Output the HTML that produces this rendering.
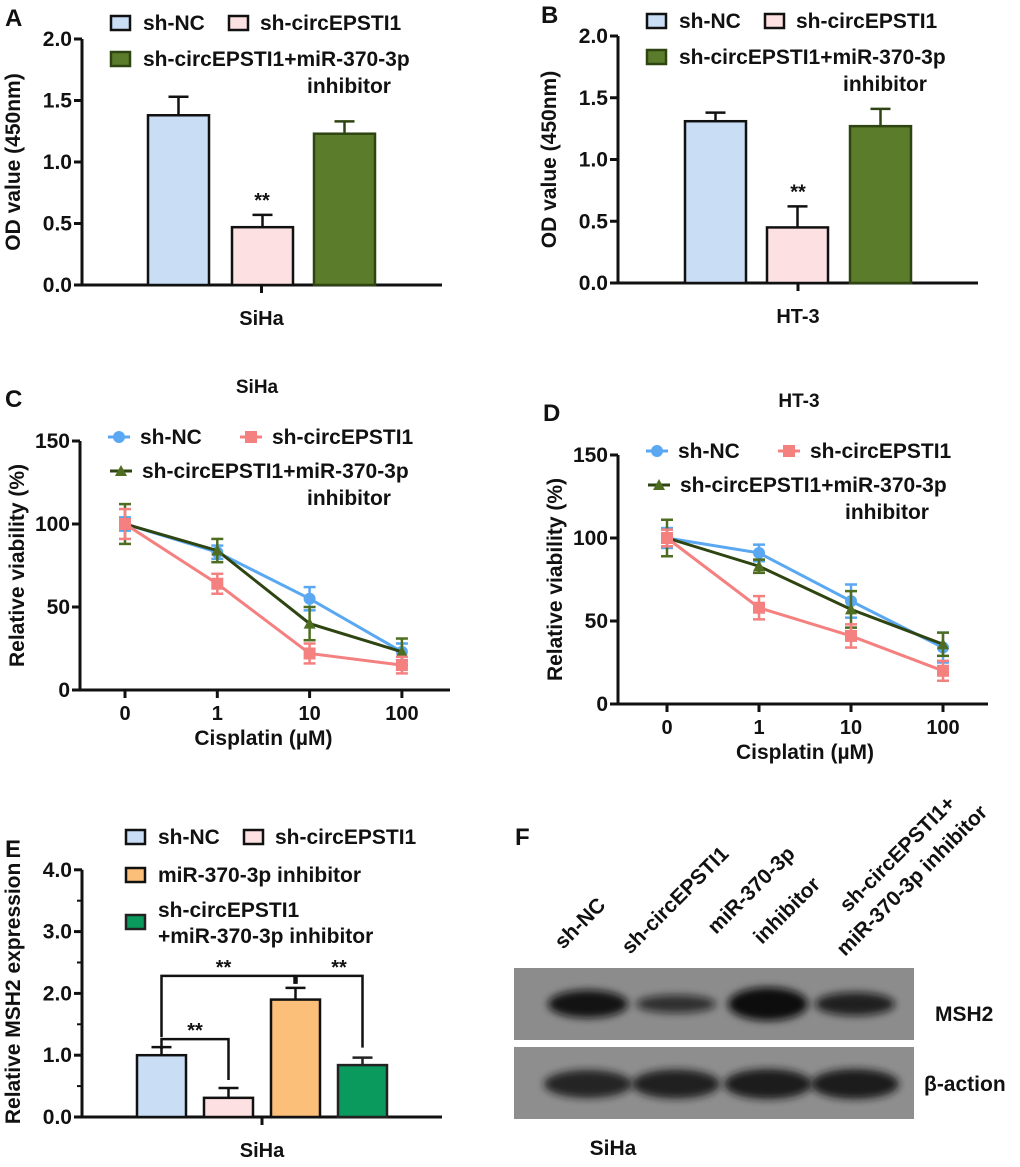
<!DOCTYPE html>
<html><head><meta charset="utf-8"><style>
body{margin:0;background:#fff}
svg text{font-family:"Liberation Sans",Arial,sans-serif;font-weight:bold;fill:#111}
</style></head><body>
<svg id="fig" width="1020" height="1162" viewBox="0 0 1020 1162" xmlns="http://www.w3.org/2000/svg">
<defs><filter id="blur" x="-20%" y="-50%" width="140%" height="200%"><feGaussianBlur stdDeviation="4"/></filter></defs>
</svg>
<script>
// ---- data ----
const barGroups = ["sh-NC","sh-circEPSTI1","sh-circEPSTI1+miR-370-3p inhibitor"];
const odSiHa = [1.38, 0.47, 1.23];
const odSiHaErr = [0.15, 0.10, 0.10];
const odHT3 = [1.31, 0.45, 1.27];
const odHT3Err = [0.07, 0.17, 0.14];
const odTicks = [0, 0.5, 1.0, 1.5, 2.0];
const doseLabels = ["0","1","10","100"];
const vSiHaNC = [100, 83, 55, 23];
const vSiHaNCErr = [4, 4, 7, 5];
const vSiHaCirc = [100, 64, 22, 15];
const vSiHaCircErr = [9, 6, 6, 5];
const vSiHaCombo = [100, 84, 40, 23];
const vSiHaComboErr = [12, 7, 10, 8];
const vHT3NC = [100, 91, 62, 34];
const vHT3NCErr = [6, 5, 10, 9];
const vHT3Circ = [100, 58, 41, 20];
const vHT3CircErr = [5, 7, 7, 6];
const vHT3Combo = [100, 83, 57, 36];
const vHT3ComboErr = [11, 4, 11, 7];
const vTicks = [0, 50, 100, 150];
const msh2Groups = ["sh-NC","sh-circEPSTI1","miR-370-3p inhibitor","sh-circEPSTI1+miR-370-3p inhibitor"];
const msh2 = [1.0, 0.31, 1.90, 0.84];
const msh2Err = [0.13, 0.16, 0.19, 0.12];
const msh2Ticks = [0, 1.0, 2.0, 3.0, 4.0];
const msh2Minor = [0.5, 1.5, 2.5, 3.5];
const blotMSH2 = [1.0, 0.45, 1.3, 0.75];
const blotActin = [0.8, 0.9, 1.0, 1.0];

const NS = "http://www.w3.org/2000/svg";
const svg = document.getElementById('fig');
const LF = 21, TF = 21, AF = 21;
function el(tag, attrs, parent, txt){
  const e = document.createElementNS(NS, tag);
  for (const k in attrs) e.setAttribute(k, attrs[k]);
  if (txt !== undefined) e.textContent = txt;
  (parent || svg).appendChild(e);
  return e;
}
function txt(x,y,s,size,anchor,parent,rot){
  const t = el('text',{x:x,y:y,'font-size':size,'text-anchor':anchor||'start'},parent,s);
  if (rot!==undefined) t.setAttribute('transform','rotate('+rot+' '+x+' '+y+')');
  return t;
}

// ---- bar panel ----
function barPanel(name, ox, oy, vals, errs, ticks, ymax, unitPx, barX, barW, fills, strokes, xlab, ytitle, letter, nTickFmt, minor){
  const g = el('g',{});
  
  
  const y = v => oy - v*unitPx;
  const axisEnd = ox + 360;
  el('line',{x1:ox,y1:oy,x2:ox,y2:y(ymax),stroke:'#111','stroke-width':3},g);
  el('line',{x1:ox-8,y1:oy,x2:axisEnd,y2:oy,stroke:'#111','stroke-width':3},g);
  ticks.forEach(t=>{
    el('line',{x1:ox-8,y1:y(t),x2:ox,y2:y(t),stroke:'#111','stroke-width':3},g);
    txt(ox-10,y(t)+7,t.toFixed(nTickFmt),TF,'end',g);
  });
  (minor||[]).forEach(t=>el('line',{x1:ox-5,y1:y(t),x2:ox,y2:y(t),stroke:'#111','stroke-width':2},g));
  const mid = (barX[0] + barX[barX.length-1] + barW)/2;
  el('line',{x1:mid,y1:oy,x2:mid,y2:oy+8,stroke:'#111','stroke-width':3},g);
  vals.forEach((v,i)=>{
    const cx = barX[i]+barW/2;
    const eb = el('line',{x1:cx,y1:y(v),x2:cx,y2:y(v+errs[i]),stroke:strokes[i],'stroke-width':2.5},g);
    
    el('line',{x1:cx-10,y1:y(v+errs[i]),x2:cx+10,y2:y(v+errs[i]),stroke:strokes[i],'stroke-width':2.5},g);
    const r = el('rect',{x:barX[i],y:y(v),width:barW,height:oy-y(v),fill:fills[i],stroke:strokes[i],'stroke-width':2.5},g);
    
    
  });
  txt(mid, oy+40, xlab, 20, 'middle', g);
  txt(ox-62, (oy+y(ymax))/2, ytitle, AF, 'middle', g, -90);
  txt(ox-77, y(ymax)-13, letter, 24, 'start', g);
  return {g:g,y:y};
}

const fillsA = ['#c9ddf5','#fde0e1','#5b7d2b'];
const strokesA = ['#111','#111','#2e4512'];
function legendSwatch(g,x,yc,fill,stroke,label,tx){
  const r = el('rect',{x:x,y:yc-7,width:19,height:14,fill:fill,stroke:stroke,'stroke-width':2.5},g);
  
  if(label) txt(tx,yc+7,label,LF,'start',g);
}
// A
let pA = barPanel('panel-a-siha-od', 82, 285, odSiHa, odSiHaErr, odTicks, 2.0, 123, [148,232,314],61, fillsA, strokesA, 'SiHa','OD value (450nm)','A',1);
legendSwatch(pA.g,111,23,fillsA[0],'#111','sh-NC',143);
legendSwatch(pA.g,229,23,fillsA[1],'#111','sh-circEPSTI1',260);
legendSwatch(pA.g,111,59,fillsA[2],strokesA[2],'sh-circEPSTI1+miR-370-3p',143);
txt(307,93,'inhibitor',LF,'start',pA.g);
txt(262,pA.y(odSiHa[1]+odSiHaErr[1])-8,'**',20,'middle',pA.g);
// B
let pB = barPanel('panel-b-ht3-od', 618, 283, odHT3, odHT3Err, odTicks, 2.0, 123.5, [685,767,850],61, fillsA, strokesA, 'HT-3','OD value (450nm)','B',1);
legendSwatch(pB.g,647,21,fillsA[0],'#111','sh-NC',679);
legendSwatch(pB.g,765,21,fillsA[1],'#111','sh-circEPSTI1',796);
legendSwatch(pB.g,647,57,fillsA[2],strokesA[2],'sh-circEPSTI1+miR-370-3p',679);
txt(843,91,'inhibitor',LF,'start',pB.g);
txt(798,pB.y(odHT3[1]+odHT3Err[1])-8,'**',20,'middle',pB.g);

// ---- line panels ----
const lineCols = {nc:'#5aa7f2', circ:'#f48080', combo:'#2e4512', comboM:'#4e6d20'};
function marker(g,type,x,y,col){
  if(type==='c') return el('circle',{cx:x,cy:y,r:6,fill:col},g);
  if(type==='s') return el('rect',{x:x-6,y:y-6,width:12,height:12,fill:col},g);
  return el('polygon',{points:`${x},${y-6} ${x-6},${y+5} ${x+6},${y+5}`,fill:col},g);
}
function linePanel(name, ox, oy, x0, dx, series, title, letter){
  const g = el('g',{});
  
  
  const unit = 249/150;
  const y = v => oy - v*unit;
  const x = i => x0 + i*dx;
  el('line',{x1:ox,y1:oy,x2:ox,y2:y(150),stroke:'#111','stroke-width':3},g);
  el('line',{x1:ox-8,y1:oy,x2:ox+370,y2:oy,stroke:'#111','stroke-width':3},g);
  vTicks.forEach(t=>{
    el('line',{x1:ox-8,y1:y(t),x2:ox,y2:y(t),stroke:'#111','stroke-width':3},g);
    txt(ox-10,y(t)+7,String(t),TF,'end',g);
  });
  doseLabels.forEach((d,i)=>{
    el('line',{x1:x(i),y1:oy,x2:x(i),y2:oy+8,stroke:'#111','stroke-width':3},g);
    txt(x(i),oy+30,d,20,'middle',g);
  });
  txt((x(0)+x(3))/2,oy+55,'Cisplatin (\u00b5M)',AF,'middle',g);
  txt(ox-56,(oy+y(150))/2,'Relative viability (%)',AF,'middle',g,-90);
  txt(x(0)+132,oy-297,title,19,'middle',g);
  txt(ox-75,oy-283,letter,24,'start',g);
  series.forEach(s=>{
    const pts = s.v.map((v,i)=>x(i)+','+y(v)).join(' ');
    const pl = el('polyline',{points:pts,fill:'none',stroke:s.col,'stroke-width':3},g);
    
    s.v.forEach((v,i)=>{
      const e = s.e[i];
      el('line',{x1:x(i),y1:y(v-e),x2:x(i),y2:y(v+e),stroke:s.mc,'stroke-width':2.5},g);
      el('line',{x1:x(i)-6,y1:y(v+e),x2:x(i)+6,y2:y(v+e),stroke:s.mc,'stroke-width':2.5},g);
      el('line',{x1:x(i)-6,y1:y(v-e),x2:x(i)+6,y2:y(v-e),stroke:s.mc,'stroke-width':2.5},g);
      const m = marker(g,s.m,x(i),y(v),s.mc);
      
    });
  });
  // legend
  const lx = ox+28, ly = oy-253;
  el('line',{x1:lx,y1:ly,x2:lx+22,y2:ly,stroke:lineCols.nc,'stroke-width':3},g); marker(g,'c',lx+11,ly,lineCols.nc);
  txt(lx+32,ly+7,'sh-NC',LF,'start',g);
  el('line',{x1:lx+132,y1:ly,x2:lx+154,y2:ly,stroke:lineCols.circ,'stroke-width':3},g); marker(g,'s',lx+143,ly,lineCols.circ);
  txt(lx+164,ly+7,'sh-circEPSTI1',LF,'start',g);
  el('line',{x1:lx+2,y1:ly+34,x2:lx+24,y2:ly+34,stroke:lineCols.combo,'stroke-width':3},g); marker(g,'t',lx+13,ly+34,lineCols.comboM);
  txt(lx+34,ly+41,'sh-circEPSTI1+miR-370-3p',LF,'start',g);
  txt(lx+199,ly+68,'inhibitor',LF,'start',g);
}
linePanel('panel-c-siha-viability',80,690,125,92.3,[
  {key:'sh-nc',v:vSiHaNC,e:vSiHaNCErr,col:lineCols.nc,mc:lineCols.nc,m:'c'},
  {key:'combo',v:vSiHaCombo,e:vSiHaComboErr,col:lineCols.combo,mc:lineCols.comboM,m:'t'},
  {key:'sh-circ',v:vSiHaCirc,e:vSiHaCircErr,col:lineCols.circ,mc:lineCols.circ,m:'s'}],'SiHa','C');
linePanel('panel-d-ht3-viability',618,704,667,92,[
  {key:'sh-nc',v:vHT3NC,e:vHT3NCErr,col:lineCols.nc,mc:lineCols.nc,m:'c'},
  {key:'combo',v:vHT3Combo,e:vHT3ComboErr,col:lineCols.combo,mc:lineCols.comboM,m:'t'},
  {key:'sh-circ',v:vHT3Circ,e:vHT3CircErr,col:lineCols.circ,mc:lineCols.circ,m:'s'}],'HT-3','D');

// ---- E ----
const fillsE = ['#c9ddf5','#fde0e1','#fbbf7a','#0b9a5e'];
const barXE = [137,204,271,338];
let pE = barPanel('panel-e-msh2', 82, 1117, msh2, msh2Err, msh2Ticks, 4.0, 61.8, barXE, 49, fillsE, ['#111','#111','#111','#222'], 'SiHa','Relative MSH2 expression','E',1,msh2Minor);
legendSwatch(pE.g,126,837,fillsE[0],'#111','sh-NC',158);
legendSwatch(pE.g,244,837,fillsE[1],'#111','sh-circEPSTI1',275);
legendSwatch(pE.g,126,875,fillsE[2],'#111','miR-370-3p inhibitor',158);
legendSwatch(pE.g,126,922,fillsE[3],'#222');
txt(158,917,'sh-circEPSTI1',LF,'start',pE.g);
txt(158,943,'+miR-370-3p inhibitor',LF,'start',pE.g);
(function(){
  const g=pE.g, y=pE.y, c=i=>barXE[i]+24.5;
  const top = i => y(msh2[i]+msh2Err[i]);
  const path=(d)=>{const p=el('path',{d:d,fill:'none',stroke:'#111','stroke-width':2.5},g);};
  const hi = top(2)-12;
  path(`M${c(0)} ${top(0)-10} V${hi} H${c(2)-1} V${top(2)-4}`);
  path(`M${c(2)+1} ${top(2)-4} V${hi} H${c(3)} V${top(3)-10}`);
  txt((c(0)+c(2))/2-5,hi-2,'**',20,'middle',g);
  txt((c(2)+c(3))/2+10,hi-2,'**',20,'middle',g);
  const lo = top(0)-8;
  path(`M${c(0)} ${lo+10} V${lo} H${c(1)} V${top(1)-8}`);
  txt((c(0)+c(1))/2,lo-2,'**',20,'middle',g);
})();

// ---- F western blot ----
(function(){
  const g = el('g',{});
  
  
  txt(515,845,'F',24,'start',g);
  const lanes=[588,676,768,855];
  const b1 = el('rect',{x:514,y:968,width:400,height:72,fill:'#8c8c8c'},g);
  
  const b2 = el('rect',{x:514,y:1047,width:400,height:72,fill:'#8e8e8e'},g);
  
  lanes.forEach((lx,i)=>{
    const a=blotMSH2[i];
    el('ellipse',{cx:lx,cy:1004,rx:40,ry:5+9*a,fill:'#101010',opacity:Math.min(1,0.55+0.4*a),filter:'url(#blur)'},g);
    const b=blotActin[i];
    el('ellipse',{cx:lx,cy:1084,rx:44,ry:10+5*b,fill:'#151515',opacity:0.6+0.35*b,filter:'url(#blur)'},g);
  });
  txt(935,1021,'MSH2',21,'start',g);
  txt(924,1091,'\u03b2-action',21,'start',g);
  txt(613,1155,'SiHa',21,'middle',g);
  txt(563,950,'sh-NC',21,'start',g,-45);
  txt(630,955,'sh-circEPSTI1',21,'start',g,-45);
  txt(716,935,'miR-370-3p',21,'start',g,-45);
  txt(762,945,'inhibitor',21,'start',g,-45);
  txt(848,913,'sh-circEPSTI1+',21,'start',g,-45);
  txt(845,957,'miR-370-3p inhibitor',21,'start',g,-45);
})();
</script>
</body></html>
